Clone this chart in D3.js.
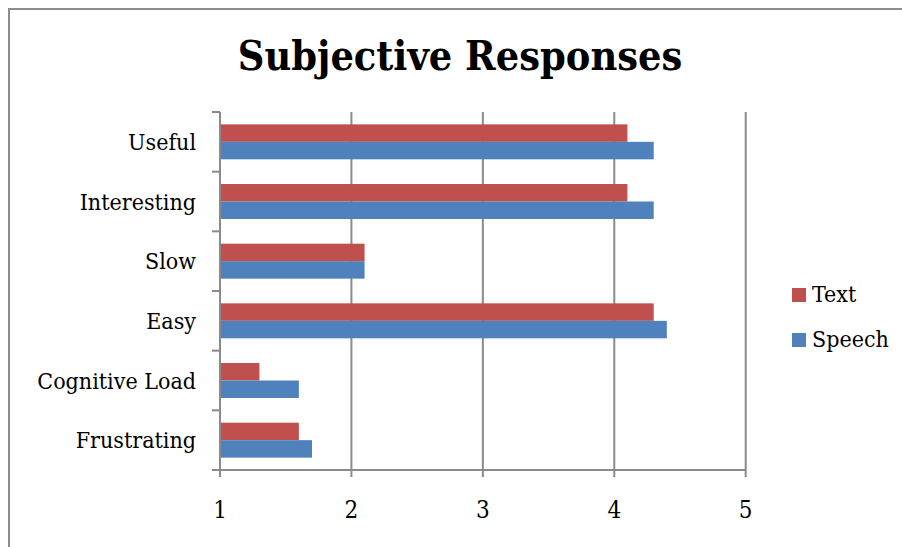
<!DOCTYPE html>
<html>
<head>
<meta charset="utf-8">
<script src="https://cdn.jsdelivr.net/npm/d3@7"></script>
<style>
  body { margin: 0; background: #fff; }
  text { font-family: "DejaVu Serif", "Liberation Serif", serif; font-stretch: condensed; }
</style>
</head>
<body>
<script>
// chart data
var categories = ['Useful', 'Interesting', 'Slow', 'Easy', 'Cognitive Load', 'Frustrating'];
var series_names = ['Text', 'Speech'];
var text_values = [4.1, 4.1, 2.1, 4.3, 1.3, 1.6];
var speech_values = [4.3, 4.3, 2.1, 4.4, 1.6, 1.7];
var x_ticks = [1, 2, 3, 4, 5];
var colors = ['#C0504D', '#4F81BD'];

var width = 902, height = 547;
var left = 220, right = 745.7, top_y = 112, bottom_y = 470;

var svg = d3.select('body').append('svg').attr('width', width).attr('height', height);

// outer border (runs off the right and bottom edges)
svg.append('rect').attr('x', 9).attr('y', 9).attr('width', 1000).attr('height', 1000)
	.attr('fill', 'none').attr('stroke', '#8c8c8c').attr('stroke-width', 2);

var xScale = d3.scaleLinear().domain([1, 5]).range([left, right]);
var yScale = d3.scaleBand().domain(categories).range([top_y, bottom_y]).paddingInner(0.414).paddingOuter(0.207);
var inner = d3.scaleBand().domain(series_names).range([0, yScale.bandwidth()]);

// gridlines
svg.append('g').selectAll('line').data(x_ticks.slice(1)).enter().append('line')
	.attr('x1', d => xScale(d)).attr('x2', d => xScale(d))
	.attr('y1', top_y).attr('y2', bottom_y)
	.attr('stroke', '#8a8a8a').attr('stroke-width', 2);

// bars
var rows = categories.map(function(c, i) {
	return [{cat: c, s: 'Text', v: text_values[i]}, {cat: c, s: 'Speech', v: speech_values[i]}];
});
svg.append('g').selectAll('g').data(rows).enter().append('g')
	.selectAll('rect').data(d => d).enter().append('rect')
	.attr('x', xScale(1))
	.attr('y', d => yScale(d.cat) + inner(d.s))
	.attr('width', d => xScale(d.v) - xScale(1))
	.attr('height', inner.bandwidth())
	.attr('fill', (d, i) => colors[i]);

// y axis line with ticks between categories
var yAxis = svg.append('g');
yAxis.append('line').attr('x1', left).attr('x2', left).attr('y1', top_y).attr('y2', bottom_y)
	.attr('stroke', '#8a8a8a').attr('stroke-width', 2);
var yTicks = d3.range(categories.length + 1).map(i => top_y + i * yScale.step());
yAxis.selectAll('.yt').data(yTicks).enter().append('line')
	.attr('x1', left - 8).attr('x2', left).attr('y1', d => d).attr('y2', d => d)
	.attr('stroke', '#8a8a8a').attr('stroke-width', 2);
yAxis.selectAll('text').data(categories).enter().append('text')
	.attr('x', 196).attr('y', d => yScale(d) + yScale.bandwidth() / 2)
	.attr('dy', '0.35em').attr('text-anchor', 'end')
	.attr('font-size', '23px').attr('fill', '#000').text(d => d);

// x axis
var xAxis = svg.append('g');
xAxis.append('line').attr('x1', left).attr('x2', right).attr('y1', bottom_y).attr('y2', bottom_y)
	.attr('stroke', '#8a8a8a').attr('stroke-width', 2);
xAxis.selectAll('.xt').data(x_ticks).enter().append('line')
	.attr('x1', d => xScale(d)).attr('x2', d => xScale(d)).attr('y1', bottom_y).attr('y2', bottom_y + 7)
	.attr('stroke', '#8a8a8a').attr('stroke-width', 2);
xAxis.selectAll('text').data(x_ticks).enter().append('text')
	.attr('x', d => xScale(d)).attr('y', 518).attr('text-anchor', 'middle')
	.attr('font-size', '24px').attr('fill', '#000').text(d => d);

// title
svg.append('text').text('Subjective Responses')
	.attr('x', 460).attr('y', 70).attr('text-anchor', 'middle')
	.attr('font-size', '41px').attr('font-weight', 'bold').attr('fill', '#000');

// legend
var legend = svg.append('g').selectAll('g').data(series_names).enter().append('g')
	.attr('transform', (d, i) => 'translate(792,' + (288 + i * 45) + ')');
legend.append('rect').attr('width', 14).attr('height', 14).attr('fill', (d, i) => colors[i]);
legend.append('text').attr('x', 20).attr('y', 14).attr('font-size', '23px').attr('fill', '#000').text(d => d);
</script>
</body>
</html>
